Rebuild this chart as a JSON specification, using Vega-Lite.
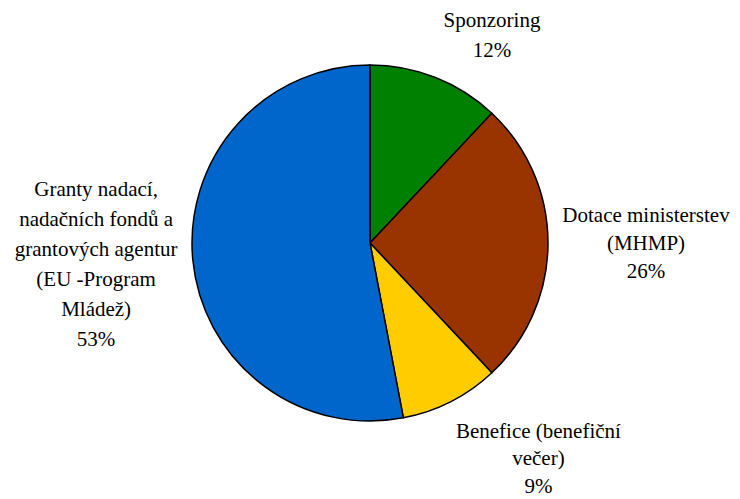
{
  "$schema": "https://vega.github.io/schema/vega-lite/v6.json",
  "width": 740,
  "height": 486,
  "padding": {"left": 0, "right": 0, "top": 0, "bottom": 13},
  "autosize": "none",
  "background": "white",
  "config": {"view": {"stroke": null}},
  "data": {
    "values": [
      {"zdroj": "Sponzoring", "podil": 12},
      {"zdroj": "Dotace ministerstev\n(MHMP)", "podil": 26},
      {"zdroj": "Benefice (benefiční\nvečer)", "podil": 9},
      {"zdroj": "Granty nadací,\nnadačních fondů a\ngrantových agentur\n(EU -Program\nMládež)", "podil": 53}
    ]
  },
  "transform": [
    {"window": [{"op": "row_number", "as": "poradi"}]},
    {"calculate": "datum.zdroj + '\\n' + datum.podil + '%'", "as": "popisek"}
  ],
  "encoding": {
    "theta": {"field": "podil", "type": "quantitative", "stack": true},
    "order": {"field": "poradi", "type": "quantitative"}
  },
  "layer": [
    {
      "mark": {"type": "arc", "radius": 178, "stroke": "#000000", "strokeWidth": 1.5},
      "encoding": {
        "color": {
          "field": "zdroj",
          "type": "nominal",
          "legend": null,
          "scale": {
            "domain": [
              "Sponzoring",
              "Dotace ministerstev\n(MHMP)",
              "Benefice (benefiční\nvečer)",
              "Granty nadací,\nnadačních fondů a\ngrantových agentur\n(EU -Program\nMládež)"
            ],
            "range": ["#008000", "#993300", "#FFCC00", "#0066CC"]
          }
        }
      }
    },
    {
      "mark": {"type": "text", "radius": 220, "dx": 41, "dy": -11, "align": "center", "baseline": "alphabetic", "lineBreak": "\n", "lineHeight": 29.5, "font": "Liberation Serif", "fontSize": 21, "color": "#000000"},
      "encoding": {"text": {"condition": {"test": "datum.poradi === 1", "field": "popisek"}, "value": ""}}
    },
    {
      "mark": {"type": "text", "radius": 250, "dx": 26, "dy": -21, "align": "center", "baseline": "alphabetic", "lineBreak": "\n", "lineHeight": 28, "font": "Liberation Serif", "fontSize": 21, "color": "#000000"},
      "encoding": {"text": {"condition": {"test": "datum.poradi === 2", "field": "popisek"}, "value": ""}}
    },
    {
      "mark": {"type": "text", "radius": 230, "dx": 64, "dy": -10, "align": "center", "baseline": "alphabetic", "lineBreak": "\n", "lineHeight": 27.5, "font": "Liberation Serif", "fontSize": 21, "color": "#000000"},
      "encoding": {"text": {"condition": {"test": "datum.poradi === 3", "field": "popisek"}, "value": ""}}
    },
    {
      "mark": {"type": "text", "radius": 250, "dx": -25, "dy": -71, "align": "center", "baseline": "alphabetic", "lineBreak": "\n", "lineHeight": 30, "font": "Liberation Serif", "fontSize": 21, "color": "#000000"},
      "encoding": {"text": {"condition": {"test": "datum.poradi === 4", "field": "popisek"}, "value": ""}}
    }
  ]
}
